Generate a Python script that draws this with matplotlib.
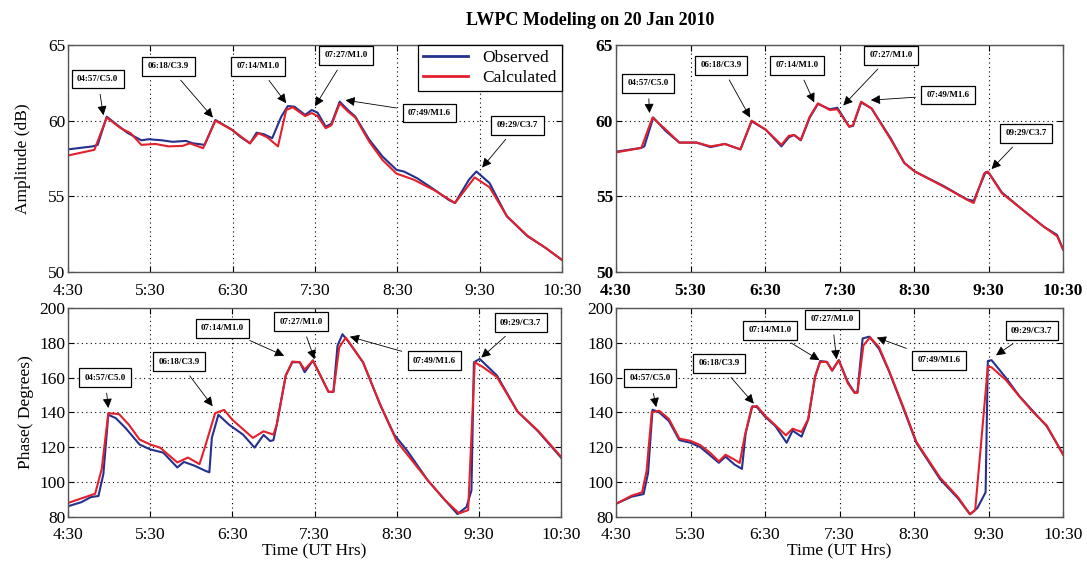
import matplotlib
matplotlib.use("Agg")
import matplotlib.pyplot as plt

plt.rcParams["font.family"] = ["Liberation Serif", "DejaVu Serif"]

# time axis (decimal UT hours)
tick_pos = [4.5, 5.5, 6.5, 7.5, 8.5, 9.5, 10.5]
tick_lab = ["4:30", "5:30", "6:30", "7:30", "8:30", "9:30", "10:30"]

# ---- amplitude, left panel ----
amp_l_obs_t = [4.5, 4.8, 4.86, 4.97, 5.1, 5.22, 5.39, 5.48, 5.64, 5.77, 5.93, 6.02, 6.16,
               6.29, 6.49, 6.6, 6.71, 6.79, 6.88, 6.98, 7.09, 7.17, 7.25, 7.38, 7.46, 7.53,
               7.63, 7.7, 7.8, 7.9, 7.99, 8.16, 8.32, 8.49, 8.58, 8.74, 8.95, 9.12, 9.2,
               9.37, 9.46, 9.62, 9.83, 10.08, 10.3, 10.5]
amp_l_obs = [58.1, 58.3, 58.4, 60.26, 59.7, 59.2, 58.7, 58.77, 58.7, 58.6, 58.66, 58.5, 58.4,
             60.04, 59.4, 58.9, 58.5, 59.2, 59.1, 58.84, 60.26, 60.96, 60.92, 60.37, 60.7, 60.53,
             59.6, 59.8, 61.25, 60.7, 60.26, 58.73, 57.63, 56.75, 56.64, 56.2, 55.44, 54.78, 54.56,
             56.1, 56.64, 55.88, 53.68, 52.37, 51.6, 50.8]
amp_l_cal_t = [4.5, 4.82, 4.97, 5.14, 5.26, 5.39, 5.56, 5.72, 5.89, 5.98, 6.14, 6.29, 6.49,
               6.71, 6.81, 6.92, 7.05, 7.15, 7.23, 7.38, 7.46, 7.53, 7.63, 7.7, 7.8, 7.9,
               7.99, 8.16, 8.32, 8.49, 8.7, 8.95, 9.2, 9.44, 9.62, 9.83, 10.08, 10.3, 10.5]
amp_l_cal = [57.7, 58.07, 60.2, 59.5, 59.17, 58.4, 58.46, 58.3, 58.33, 58.5, 58.18, 60.0, 59.4,
             58.5, 59.17, 58.9, 58.3, 60.7, 60.88, 60.3, 60.5, 60.3, 59.5, 59.7, 61.14, 60.6,
             60.2, 58.6, 57.4, 56.5, 56.1, 55.4, 54.56, 56.25, 55.6, 53.7, 52.4, 51.6, 50.8]

# ---- amplitude, right panel ----
amp_r_cal_t = [4.5, 4.84, 4.99, 5.17, 5.35, 5.58, 5.77, 5.96, 6.17, 6.32, 6.51, 6.72, 6.82,
               6.89, 6.98, 7.1, 7.21, 7.37, 7.47, 7.63, 7.68, 7.79, 7.93, 8.19, 8.37, 8.51,
               8.89, 9.21, 9.3, 9.44, 9.49, 9.68, 9.96, 10.24, 10.42, 10.5]
amp_r_cal = [57.9, 58.2, 60.2, 59.4, 58.55, 58.55, 58.3, 58.46, 58.1, 60.0, 59.4, 58.4, 59.0,
             59.05, 58.73, 60.26, 61.14, 60.7, 60.75, 59.6, 59.7, 61.25, 60.8, 58.73, 57.2, 56.64,
             55.66, 54.78, 54.56, 56.5, 56.64, 55.2, 54.1, 53.0, 52.37, 51.5]
amp_r_obs_t = [4.5, 4.84, 4.88, 5.0, 5.17, 5.35, 5.58, 5.77, 5.96, 6.17, 6.32, 6.51, 6.72,
               6.82, 6.89, 6.98, 7.1, 7.21, 7.37, 7.47, 7.63, 7.68, 7.79, 7.93, 8.19, 8.37,
               8.51, 8.89, 9.21, 9.3, 9.46, 9.51, 9.68, 9.96, 10.24, 10.42, 10.5]
amp_r_obs = [57.95, 58.2, 58.3, 60.2, 59.3, 58.55, 58.55, 58.25, 58.46, 58.1, 59.95, 59.4, 58.3,
             58.9, 59.05, 58.7, 60.2, 61.1, 60.75, 60.85, 59.6, 59.65, 61.2, 60.8, 58.8, 57.2,
             56.64, 55.7, 54.8, 54.7, 56.6, 56.5, 55.25, 54.1, 53.0, 52.45, 51.5]

# ---- phase, left panel ----
ph_l_obs_t = [4.5, 4.66, 4.78, 4.87, 4.93, 4.99, 5.08, 5.2, 5.37, 5.5, 5.66, 5.83, 5.91,
              6.04, 6.17, 6.22, 6.25, 6.33, 6.46, 6.63, 6.77, 6.88, 6.96, 7.0, 7.04, 7.15,
              7.23, 7.32, 7.38, 7.48, 7.59, 7.67, 7.73, 7.78, 7.84, 7.92, 8.09, 8.3, 8.47,
              8.63, 8.88, 9.09, 9.24, 9.35, 9.41, 9.44, 9.51, 9.72, 9.97, 10.22, 10.5]
ph_l_obs = [86.0, 88.3, 91.3, 91.9, 104.5, 138.6, 136.7, 131.0, 121.5, 118.7, 116.8, 108.3, 111.5,
            109.3, 106.4, 105.5, 125.3, 138.6, 132.9, 127.2, 119.7, 127.0, 123.5, 124.0, 132.9, 161.2,
            168.8, 168.8, 163.1, 169.8, 159.4, 151.8, 151.8, 178.3, 184.9, 180.2, 168.8, 144.2, 127.2,
            117.8, 100.8, 89.4, 81.5, 85.6, 95.1, 168.8, 170.7, 161.2, 140.5, 129.1, 114.0]
ph_l_cal_t = [4.5, 4.83, 4.91, 4.99, 5.12, 5.24, 5.37, 5.5, 5.62, 5.83, 5.96, 6.1, 6.17,
              6.29, 6.4, 6.5, 6.75, 6.88, 7.0, 7.04, 7.15, 7.23, 7.32, 7.38, 7.48, 7.59,
              7.67, 7.73, 7.8, 7.88, 8.09, 8.3, 8.5, 8.88, 9.09, 9.26, 9.37, 9.45, 9.55,
              9.72, 9.97, 10.22, 10.5]
ph_l_cal = [87.9, 93.2, 107.4, 139.5, 139.0, 132.9, 124.4, 121.5, 119.7, 111.2, 114.0, 110.2, 120.6,
            139.5, 141.4, 135.7, 125.3, 129.1, 127.2, 132.9, 161.2, 169.2, 168.8, 164.6, 169.8, 159.4,
            151.8, 151.8, 177.3, 183.0, 168.8, 144.5, 123.4, 100.8, 89.4, 81.9, 83.8, 168.8, 166.0,
            160.3, 140.5, 129.5, 114.5]

# ---- phase, right panel ----
ph_r_cal_t = [4.5, 4.71, 4.85, 4.91, 4.98, 5.08, 5.21, 5.35, 5.5, 5.63, 5.77, 5.88, 5.97,
              6.09, 6.16, 6.23, 6.32, 6.39, 6.5, 6.64, 6.78, 6.87, 6.99, 7.08, 7.17, 7.24,
              7.33, 7.4, 7.49, 7.61, 7.7, 7.74, 7.82, 7.91, 8.03, 8.16, 8.35, 8.53, 8.85,
              9.09, 9.25, 9.32, 9.49, 9.54, 9.73, 9.91, 10.1, 10.28, 10.5]
ph_r_cal = [87.4, 92.1, 94.0, 106.2, 140.0, 140.9, 136.2, 124.9, 123.6, 121.2, 116.5, 111.8, 115.6,
            112.8, 110.9, 126.8, 142.8, 143.7, 138.1, 132.5, 126.8, 130.6, 128.7, 136.2, 160.6, 169.0,
            169.0, 164.0, 170.0, 156.8, 151.2, 151.2, 178.4, 183.1, 177.5, 164.4, 143.7, 123.1, 102.4,
            91.2, 81.4, 83.7, 166.2, 165.9, 158.7, 149.3, 140.0, 132.5, 115.6]
ph_r_obs_t = [4.5, 4.71, 4.87, 4.93, 4.99, 5.08, 5.21, 5.35, 5.5, 5.63, 5.77, 5.88, 5.97,
              6.09, 6.19, 6.24, 6.33, 6.39, 6.5, 6.64, 6.79, 6.87, 6.99, 7.08, 7.17, 7.24,
              7.33, 7.4, 7.49, 7.61, 7.7, 7.74, 7.81, 7.9, 8.03, 8.16, 8.35, 8.53, 8.85,
              9.09, 9.25, 9.35, 9.46, 9.49, 9.54, 9.73, 9.91, 10.1, 10.28, 10.5]
ph_r_obs = [87.4, 91.5, 93.0, 105.0, 141.5, 140.0, 135.0, 124.0, 122.5, 120.0, 115.0, 111.0, 114.5,
            110.0, 107.5, 128.0, 143.5, 143.0, 137.5, 132.0, 122.5, 129.5, 126.0, 136.0, 160.0, 169.5,
            169.0, 164.0, 170.0, 157.5, 151.5, 151.5, 182.5, 183.5, 176.5, 164.0, 143.0, 122.5, 101.5,
            90.5, 81.4, 85.0, 94.0, 169.5, 170.0, 160.0, 149.5, 140.5, 132.0, 116.0]

# flare labels: (box x, box y, arrow tip x, arrow tip y) per panel
flares = ["04:57/C5.0", "06:18/C3.9", "07:14/M1.0", "07:27/M1.0", "07:49/M1.6", "09:29/C3.7"]
ann_amp_l = [(4.86, 62.75, 4.93, 60.35), (5.72, 63.6, 6.26, 60.2), (6.81, 63.6, 7.15, 61.15),
             (7.88, 64.3, 7.5, 60.95), (8.89, 60.5, 7.87, 61.35), (9.96, 59.7, 9.53, 56.9)]
ann_amp_r = [(4.93, 62.46, 4.95, 60.5), (5.91, 63.66, 6.3, 60.2), (6.93, 63.66, 7.16, 61.2),
             (8.19, 64.32, 7.55, 61.0), (8.96, 61.69, 7.92, 61.35), (10.0, 59.17, 9.54, 56.8)]
ann_ph_l = [(4.95, 159.9, 4.99, 142.5), (5.85, 169.2, 6.26, 143.5), (6.38, 188.3, 7.13, 172.5),
            (7.34, 192.1, 7.5, 170.5), (8.96, 169.8, 7.93, 183.5), (10.01, 191.5, 9.53, 171.5)]
ann_ph_r = [(4.96, 159.7, 5.04, 143.0), (5.88, 168.1, 6.35, 145.0), (6.57, 187.2, 7.23, 170.0),
            (7.4, 193.4, 7.46, 170.5), (8.83, 170.0, 8.0, 183.0), (10.08, 186.9, 9.6, 172.8)]

obs_col = "#24318f"
cal_col = "#e3202b"

fig = plt.figure(figsize=(10.87, 5.61), dpi=100)
fig.text(0.543, 0.963, "LWPC Modeling on 20 Jan 2010", ha="center", va="center",
         fontsize=13, fontweight="bold")

ax_al = fig.add_axes([0.0626, 0.515, 0.4544, 0.405])
ax_ar = fig.add_axes([0.5667, 0.515, 0.4113, 0.405])
ax_pl = fig.add_axes([0.0626, 0.079, 0.4535, 0.372])
ax_pr = fig.add_axes([0.5667, 0.079, 0.4113, 0.372])

panels = [
    (ax_al, amp_l_obs_t, amp_l_obs, amp_l_cal_t, amp_l_cal, ann_amp_l, (50, 65), [50, 55, 60, 65], False),
    (ax_ar, amp_r_obs_t, amp_r_obs, amp_r_cal_t, amp_r_cal, ann_amp_r, (50, 65), [50, 55, 60, 65], True),
    (ax_pl, ph_l_obs_t, ph_l_obs, ph_l_cal_t, ph_l_cal, ann_ph_l, (80, 200), list(range(80, 201, 20)), False),
    (ax_pr, ph_r_obs_t, ph_r_obs, ph_r_cal_t, ph_r_cal, ann_ph_r, (80, 200), list(range(80, 201, 20)), False),
]

for ax, ot, ov, ct, cv, anns, ylim, yt, bold in panels:
    ax.plot(ot, ov, color=obs_col, lw=1.5, label="Observed")
    ax.plot(ct, cv, color=cal_col, lw=1.5, label="Calculated")
    ax.set_xlim(4.5, 10.5)
    ax.set_ylim(*ylim)
    ax.set_xticks(tick_pos)
    ax.set_xticklabels(tick_lab)
    ax.set_yticks(yt)
    ax.grid(True, color="k", ls=(0, (1, 3)), lw=0.8)
    ax.tick_params(direction="in", length=4, top=True, right=True, labelsize=12.5)
    ax.tick_params(axis="x", pad=7.5)
    ax.tick_params(axis="y", pad=2)
    for s in ax.spines.values():
        s.set_color("#555555")
        s.set_linewidth(1.0)
    if bold:
        for lab in ax.get_xticklabels() + ax.get_yticklabels():
            lab.set_fontweight("bold")
    for name, (bx, by, px, py) in zip(flares, anns):
        ax.annotate(name, xy=(px, py), xytext=(bx, by), ha="center", va="center",
                    fontsize=6.5, fontweight="bold",
                    bbox=dict(boxstyle="square,pad=0.6", fc="white", ec="black", lw=0.9),
                    arrowprops=dict(arrowstyle="-|>", color="black", lw=0.6,
                                    mutation_scale=14, shrinkA=4, shrinkB=0))

ax_al.set_ylabel("Amplitude (dB)", fontsize=12.5, labelpad=12)
ax_pl.set_ylabel("Phase( Degrees)", fontsize=12.5, labelpad=4)
ax_pl.set_xlabel("Time (UT Hrs)", fontsize=12.5, labelpad=0)
ax_pr.set_xlabel("Time (UT Hrs)", fontsize=12.5, labelpad=0)

leg = ax_al.legend(loc="upper right", borderaxespad=0, fancybox=False, edgecolor="black",
                   fontsize=12.5, handlelength=2.6, framealpha=1, borderpad=0.3,
                   labelspacing=0.2)
leg.get_frame().set_linewidth(0.9)
for line in leg.get_lines():
    line.set_linewidth(2.0)

fig.savefig("out.png", dpi=100)
